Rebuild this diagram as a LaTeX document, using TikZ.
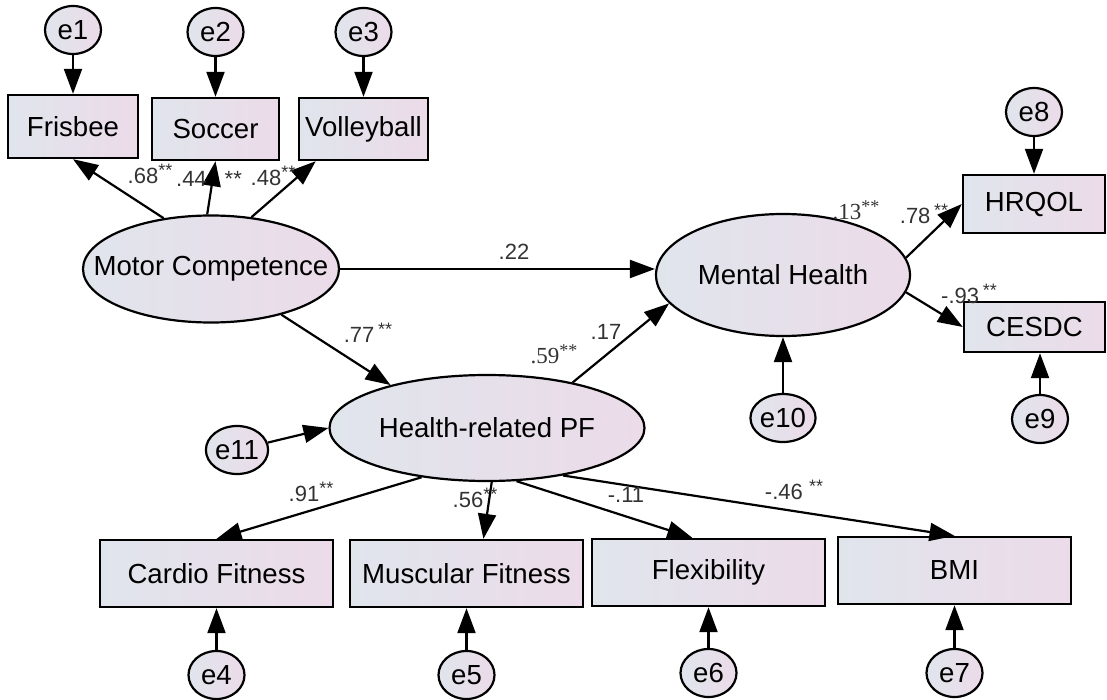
\documentclass[tikz,border=0pt]{standalone}
\usepackage{fontspec}
\setmainfont{Liberation Sans}
\newfontfamily\serifnum{Liberation Serif}
\usetikzlibrary{arrows.meta,shapes.geometric}
\definecolor{fillL}{RGB}{224,229,236}
\definecolor{fillR}{RGB}{236,219,233}
\newcommand{\sig}{\raisebox{3.5pt}{\fontsize{9}{9}\selectfont **}}
\begin{document}
\begin{tikzpicture}[x=0.5pt,y=-0.5pt,font=\fontsize{13.8}{16}\selectfont,
  grad/.style={left color=fillL,right color=fillR},
  obs/.style={draw,line width=1.2pt,grad,rectangle,inner sep=0pt,minimum width=116.5pt,minimum height=33.5pt},
  lat/.style={draw,line width=1.1pt,grad,ellipse,inner sep=0pt},
  err/.style={draw,line width=1.1pt,grad,ellipse,inner sep=0pt,minimum width=28pt,minimum height=24pt},
  link/.style={line width=1.1pt,-{Triangle[length=12.5pt,width=9pt]}},
  coef/.style={font=\fontsize{11}{12}\selectfont,text=black!80,inner sep=0pt}]
\useasboundingbox (0,0) rectangle (1107,700);

\node[obs,minimum width=65pt,minimum height=31.5pt] (frisbee) at (73,126.5) {Frisbee};
\node[obs,minimum width=63.5pt,minimum height=31pt] (soccer) at (215.5,129) {Soccer};
\node[obs,minimum width=64.5pt,minimum height=31pt] (volley) at (363.5,129) {Volleyball};
\node[obs,minimum width=71pt,minimum height=29pt] (hrqol) at (1034,204) {HRQOL};
\node[obs,minimum width=70.5pt,minimum height=25pt] (cesdc) at (1034.5,327) {CESDC};
\node[obs] (cardio) at (216.5,573.5) {Cardio Fitness};
\node[obs] (muscular) at (466.5,573.5) {Muscular Fitness};
\node[obs] (flex) at (708.5,572.5) {Flexibility};
\node[obs] (bmi) at (954.5,570.5) {BMI};

\node[lat,minimum width=128pt,minimum height=53.5pt,label=center:{Motor Competence}] (mc) at (211,269) {};
\node[lat,minimum width=127pt,minimum height=61pt,label=center:{Mental Health}] (mh) at (783,275) {};
\node[lat,minimum width=157.5pt,minimum height=53pt,label=center:{Health-related PF}] (hpf) at (487,428) {};

\node[err] (e1) at (73,30) {e1};
\node[err] (e2) at (215.5,32) {e2};
\node[err] (e3) at (363.5,32) {e3};
\node[err] (e8) at (1034,112) {e8};
\node[err] (e9) at (1040,419) {e9};
\node[err] (e10) at (783,418) {e10};
\node[err] (e11) at (237,450) {e11};
\node[err] (e4) at (216.5,675) {e4};
\node[err] (e5) at (466.5,675) {e5};
\node[err] (e6) at (708.5,673) {e6};
\node[err] (e7) at (954.5,673) {e7};

\draw[link] (e1) -- (frisbee);
\draw[link] (e2) -- (soccer);
\draw[link] (e3) -- (volley);
\draw[link] (e8) -- (hrqol);
\draw[link] (e9) -- (e9 |- cesdc.south);
\draw[link] (e10) -- (mh);
\draw[link] (e11) -- (hpf.west);
\draw[link] (e4) -- (cardio);
\draw[link] (e5) -- (muscular);
\draw[link] (e6) -- (flex);
\draw[link] (e7) -- (bmi);

\draw[link] (mc.133) -- (frisbee.south);
\draw[link] (mc.94) -- (soccer.south);
\draw[link] (mc.52) -- (volley.214);
\draw[link] (mc.east) -- (mc.east -| mh.west);
\draw[link] (mc.-33) -- (hpf.156);
\draw[link] (hpf.28) -- (mh.194);
\draw[link] (mh.8) -- (hrqol.west);
\draw[link] (mh.-8) -- (cesdc.west);
\draw[link] (hpf.217) -- (cardio.north);
\draw[link] (hpf.275) -- (muscular.64);
\draw[link] (hpf.299) -- (flex.115);
\draw[link] (hpf.328) -- (bmi.north);

\node[coef] (c68) at (150,174) {.68\sig};
\node[coef] (c44) at (209,179) {.44\hspace{9pt}**};
\node[coef] (c48) at (273,176) {.48\sig};
\node[coef] (c22) at (514,252) {.22};
\node[coef] (c77) at (368,333) {.77\,\sig};
\node[coef,font=\serifnum\fontsize{11.5}{12}\selectfont] (c59) at (554,354) {.59\sig};
\node[coef] (c17) at (606,332) {.17};
\node[coef,font=\serifnum\fontsize{11.5}{12}\selectfont] (c13) at (856,210) {.13\sig};
\node[coef] (c78) at (924,214) {.78\,\sig};
\node[coef] (c93) at (969,294) {-.93\,\sig};
\node[coef] (c91) at (311,492) {.91\sig};
\node[coef] (c56) at (475,498) {.56\sig};
\node[coef] (c11) at (626,495) {-.11};
\node[coef] (c46) at (794,490) {-.46 \sig};
\end{tikzpicture}
\end{document}
